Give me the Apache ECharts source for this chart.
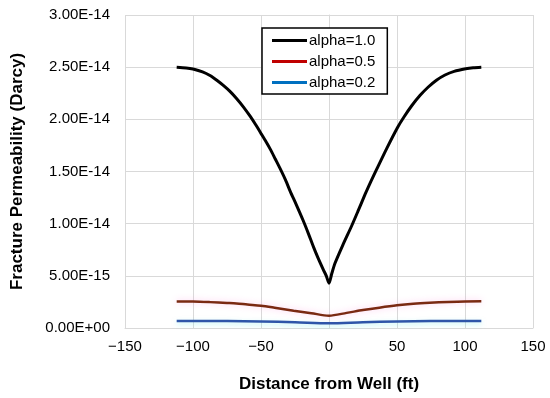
<!DOCTYPE html>
<html>
<head>
<meta charset="utf-8">
<script src="https://cdn.jsdelivr.net/npm/echarts@6/dist/echarts.min.js"></script>
<style>html,body{margin:0;padding:0;background:#fff}#c{width:550px;height:398px}</style>
</head>
<body>
<div id="c"></div>
<script>
// Values of permeability in units of 1E-15 Darcy
var seriesNames = ['alpha=1.0', 'alpha=0.5', 'alpha=0.2'];
var blackX = [-112,-105,-100,-93,-87.5,-82,-77.7,-73,-68,-63,-58,-54,-50,-46.5,-43,-39.5,-36,-32,-28.5,-24,-19,-15,-11.5,-8,-4.2,-2,0,2,4.4,10,16.7,21,26.5,31,35,42.4,50.3,55,60.8,67,73,79,85.3,92,100.5,106,112];
var blackY = [25.0,24.93,24.82,24.55,24.2,23.7,23.25,22.7,22.0,21.2,20.3,19.5,18.65,17.9,17.1,16.2,15.3,14.2,13.1,11.8,10.3,9.0,7.8,6.7,5.6,5.0,4.3,5.2,6.2,7.9,9.8,11.1,12.8,14.1,15.2,17.2,19.2,20.2,21.3,22.3,23.1,23.75,24.25,24.6,24.85,24.95,25.0];
var redX = [-112,-100,-87.5,-75,-68,-60,-50,-40,-26,-13,0,13,25,37,50,62,74,87.5,100,112];
var redY = [2.55,2.54,2.48,2.40,2.35,2.25,2.14,1.95,1.66,1.42,1.18,1.45,1.72,1.95,2.17,2.32,2.42,2.50,2.55,2.56];
var blueX = [-112,-75,-50,-25,0,25,50,75,112];
var blueY = [0.68,0.66,0.62,0.55,0.45,0.55,0.62,0.66,0.68];
var yTickLabels = ['0.00E+00','5.00E-15','1.00E-14','1.50E-14','2.00E-14','2.50E-14','3.00E-14'];
var xTickLabels = ['\u2212150','\u2212100','\u221250','0','50','100','150'];

function pairs(xs, ys){ return xs.map(function(x,i){ return [x, ys[i]]; }); }

var font = 'Liberation Sans, Arial, sans-serif';
var chart = echarts.init(document.getElementById('c'), null, {renderer:'canvas'});
chart.setOption({
  animation: false,
  backgroundColor: '#ffffff',
  grid: {left: 125, right: 17, top: 15, bottom: 70, containLabel: false},
  legend: {
    orient: 'vertical', left: 262, top: 28,
    backgroundColor: '#ffffff', borderColor: '#000000', borderWidth: 1.5,
    padding: [5, 12, 4, 10], itemGap: 6,
    itemWidth: 35, itemHeight: 3, icon: 'rect',
    textStyle: {fontFamily: font, fontSize: 15, color: '#000', lineHeight: 15, padding: [0,0,0,-3]},
    data: [
      {name: seriesNames[0], itemStyle: {color: '#000000'}},
      {name: seriesNames[1], itemStyle: {color: '#c00000'}},
      {name: seriesNames[2], itemStyle: {color: '#0070c0'}}
    ]
  },
  xAxis: {
    type: 'value', min: -150, max: 150, interval: 50,
    name: 'Distance from Well (ft)', nameLocation: 'middle', nameGap: 48,
    nameTextStyle: {fontFamily: font, fontSize: 17, fontWeight: 'bold', color: '#000'},
    axisLine: {show: true, lineStyle: {color: '#d9d9d9', width: 1}},
    axisTick: {show: false},
    axisLabel: {fontFamily: font, fontSize: 15, color: '#000', margin: 11,
      formatter: function(v, i){ return xTickLabels[i]; }},
    splitLine: {show: true, lineStyle: {color: '#d9d9d9', width: 1}}
  },
  yAxis: {
    type: 'value', min: 0, max: 30, interval: 5,
    name: 'Fracture Permeability (Darcy)', nameLocation: 'middle', nameGap: 99,
    nameTextStyle: {fontFamily: font, fontSize: 17, fontWeight: 'bold', color: '#000'},
    axisLine: {show: true, lineStyle: {color: '#d9d9d9', width: 1}},
    axisTick: {show: false},
    axisLabel: {fontFamily: font, fontSize: 15, color: '#000', margin: 15,
      formatter: function(v, i){ return yTickLabels[i]; }},
    splitLine: {show: true, lineStyle: {color: '#d9d9d9', width: 1}}
  },
  series: [
    {name: seriesNames[0], type: 'line', data: pairs(blackX, blackY), showSymbol: false, smooth: 0.25,
     lineStyle: {color: '#000000', width: 3}, z: 5},
    {name: seriesNames[1], type: 'line', data: pairs(redX, redY), showSymbol: false, smooth: 0.3,
     lineStyle: {color: '#7a2a12', width: 2.5, shadowColor: 'rgba(255,140,220,0.45)', shadowBlur: 6}, z: 4},
    {name: seriesNames[2], type: 'line', data: pairs(blueX, blueY), showSymbol: false, smooth: 0.3,
     lineStyle: {color: '#2e55a8', width: 2.5, shadowColor: 'rgba(120,240,240,0.5)', shadowBlur: 5, shadowOffsetY: 2}, z: 3}
  ]
});
</script>
</body>
</html>
